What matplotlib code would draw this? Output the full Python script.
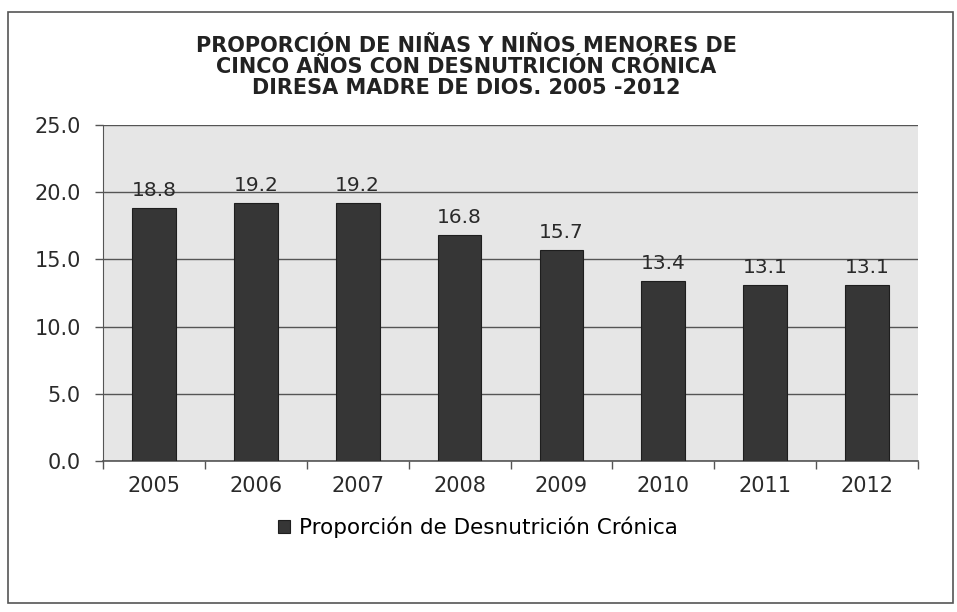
import matplotlib.pyplot as plt
from matplotlib.patches import Rectangle

years = ["2005", "2006", "2007", "2008", "2009", "2010", "2011", "2012"]
proportion = [18.8, 19.2, 19.2, 16.8, 15.7, 13.4, 13.1, 13.1]
yticks = [0, 5, 10, 15, 20, 25]

W, H = 957, 612
fig = plt.figure(figsize=(W / 100, H / 100), dpi=100)
fig.patch.set_facecolor("white")

# outer frame of the chart
fig.patches.append(Rectangle((8 / W, 1 - 603 / H), 945 / W, 591 / H,
                             transform=fig.transFigure, fill=False,
                             edgecolor="#555555", linewidth=1.2))

ax = fig.add_axes([103 / W, 1 - 461 / H, 815 / W, 336 / H])
ax.set_facecolor("#e6e6e6")

x = range(len(years))
ax.bar(x, proportion, width=0.43, color="#363636", edgecolor="#1e1e1e",
       linewidth=0.8, label="Proporción de Desnutrición Crónica", zorder=3)

# value labels above bars
for i, v in enumerate(proportion):
    ax.annotate(f"{v:.1f}", (i, v), xytext=(0, 6), textcoords="offset points",
                ha="center", va="bottom", fontsize=14.5,
                family="DejaVu Sans", color="#2a2a2a", zorder=4)

ax.set_xlim(-0.5, len(years) - 0.5)
ax.set_ylim(0, 25)
ax.set_yticks(yticks)
ax.set_yticklabels([f"{t:.1f}" for t in yticks], fontsize=15,
                   family="DejaVu Sans", color="#2a2a2a")
ax.yaxis.grid(True, color="#555555", linewidth=1.0, zorder=1)
ax.tick_params(axis="y", length=6, width=1, color="#555555", pad=10)

# x ticks at category boundaries, labels at centres
ax.set_xticks([i - 0.5 for i in range(len(years) + 1)])
ax.set_xticklabels([])
ax.set_xticks(list(x), minor=True)
ax.set_xticklabels(years, minor=True, fontsize=15, family="DejaVu Sans",
                   color="#2a2a2a")
ax.tick_params(axis="x", which="major", length=6, width=1, color="#555555")
ax.tick_params(axis="x", which="minor", length=0, pad=11)

for side in ["top", "right"]:
    ax.spines[side].set_visible(False)
ax.spines["left"].set_color("#555555")
ax.spines["bottom"].set_color("#555555")
ax.spines["bottom"].set_linewidth(1.2)

fig.text(466 / W, 1 - 67 / H,
         "PROPORCIÓN DE NIÑAS Y NIÑOS MENORES DE\n"
         "CINCO AÑOS CON DESNUTRICIÓN CRÓNICA\n"
         "DIRESA MADRE DE DIOS. 2005 -2012",
         ha="center", va="center", fontsize=15, fontweight="bold",
         family="DejaVu Sans", color="#222222", linespacing=1.08)

fig.legend(loc="center", bbox_to_anchor=(478 / W, 1 - 527 / H), frameon=False,
           prop={"family": "DejaVu Sans", "size": 15.5},
           handlelength=0.55, handleheight=0.55, handletextpad=0.4)

fig.savefig("out.png", dpi=100)
